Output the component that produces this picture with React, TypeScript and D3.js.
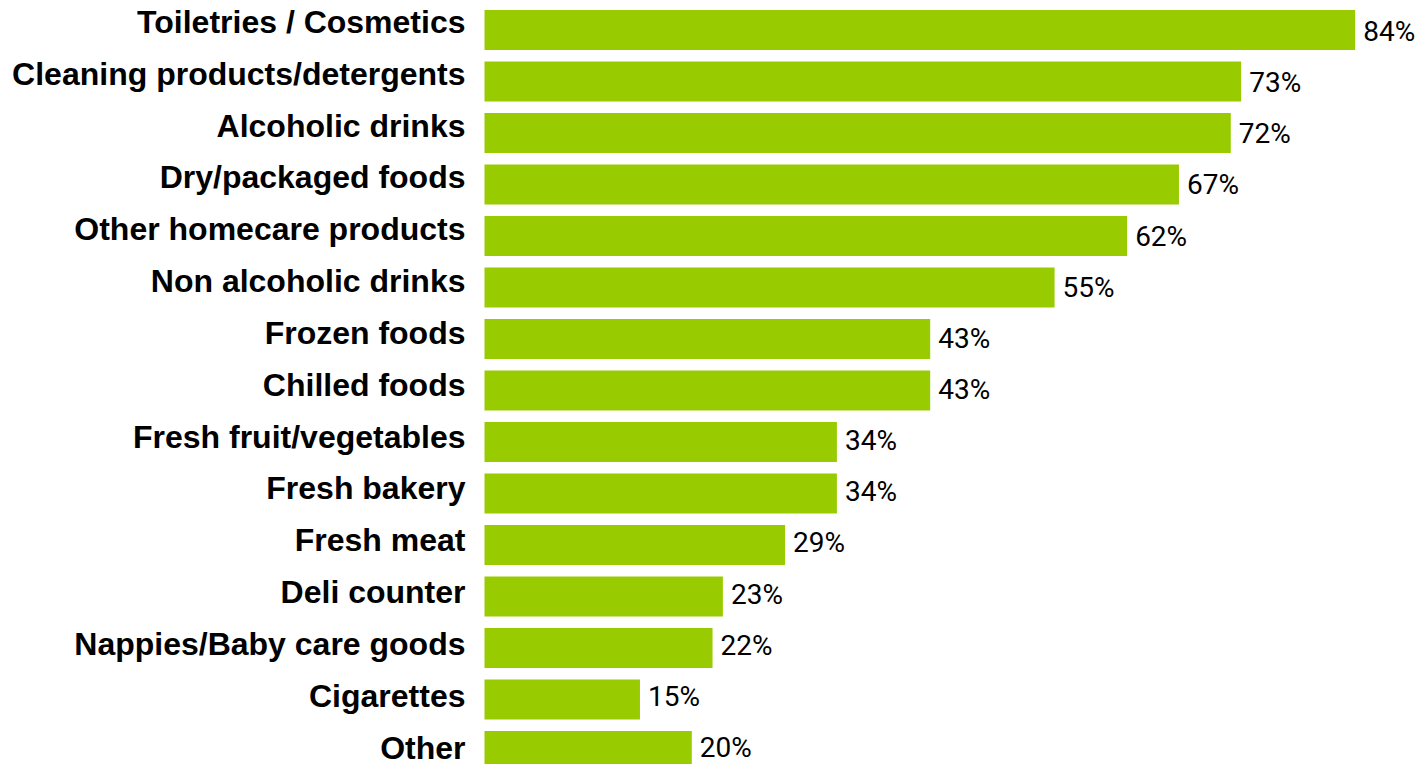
import React from "react";
import * as d3 from "d3";

const categories = [
  "Toiletries / Cosmetics",
  "Cleaning products/detergents",
  "Alcoholic drinks",
  "Dry/packaged foods",
  "Other homecare products",
  "Non alcoholic drinks",
  "Frozen foods",
  "Chilled foods",
  "Fresh fruit/vegetables",
  "Fresh bakery",
  "Fresh meat",
  "Deli counter",
  "Nappies/Baby care goods",
  "Cigarettes",
  "Other",
];
const values = [84, 73, 72, 67, 62, 55, 43, 43, 34, 34, 29, 23, 22, 15, 20];

const W = 1418;
const H = 764;

export default function App() {
  const x = d3.scaleLinear().domain([0, 100]).range([484.5, 484.5 + 1036.5]);
  const y = d3
    .scaleBand<string>()
    .domain(categories)
    .range([10, 771])
    .paddingInner(0.2233)
    .paddingOuter(0);
  const catY = d3.scalePoint<string>().domain(categories).range([33, 758.5]);
  const valY = d3.scalePoint<string>().domain(categories).range([41, 757]);

  return (
    <svg
      width={W}
      height={H}
      style={{ position: "absolute", left: 0, top: 0, display: "block", background: "#fff" }}
    >
      {categories.map((c, i) => (
        <g key={c}>
          <rect
            x={x(0)}
            y={y(c)!}
            width={x(values[i]) - x(0)}
            height={y.bandwidth()}
            fill="#99CC00"
          />
          <text
            x={465.5}
            y={catY(c)!}
            textAnchor="end"
            fontFamily="'Liberation Sans', Arial, sans-serif"
            fontWeight="bold"
            fontSize={32}
            fill="#000"
          >
            {c}
          </text>
          <text
            x={x(values[i]) + 8}
            y={valY(c)!}
            fontFamily="Roboto, 'Open Sans', sans-serif"
            fontSize={28}
            fill="#000"
          >
            {values[i]}%
          </text>
        </g>
      ))}
    </svg>
  );
}
